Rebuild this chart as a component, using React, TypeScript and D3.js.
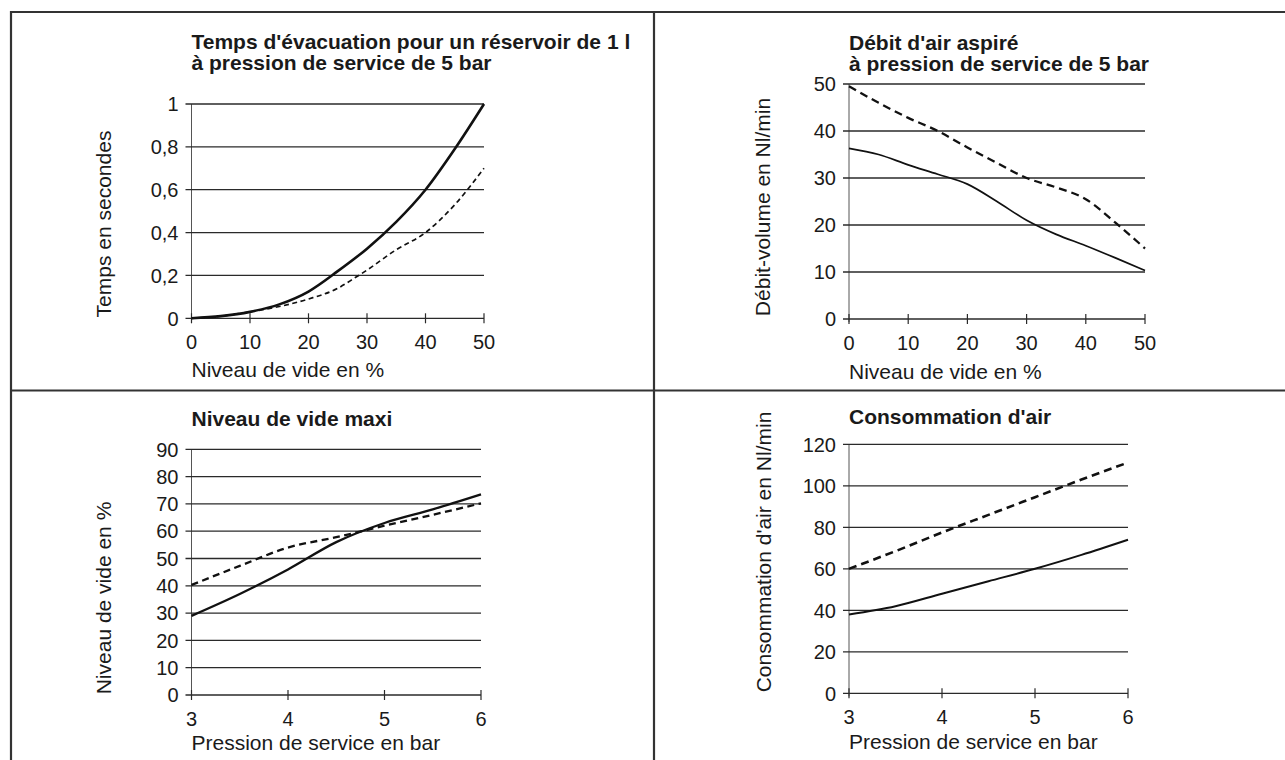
import React from "react";
import * as d3 from "d3";

// ---------- DATA ----------
const vacuumLevels = [0, 5, 10, 15, 20, 25, 30, 35, 40, 45, 50];
const evacTimeSolid = [0, 0.01, 0.03, 0.065, 0.125, 0.22, 0.325, 0.45, 0.6, 0.79, 1.0];
const evacDashX = [0, 5, 10, 15, 20, 25, 28, 30, 35, 40, 45, 50];
const evacTimeDashed = [0, 0.01, 0.03, 0.055, 0.09, 0.14, 0.19, 0.225, 0.32, 0.4, 0.53, 0.7];
const evacYTicks = [0, 0.2, 0.4, 0.6, 0.8, 1];
const evacYTickLabels = ["0", "0,2", "0,4", "0,6", "0,8", "1"];

const flowDashed = [49.5, 46, 42.8, 40, 36.5, 33.2, 30, 28, 25.5, 20.5, 15];
const flowSolid = [36.3, 35, 32.8, 30.8, 28.7, 25, 21, 18, 15.6, 13, 10.3];
const flowYTicks = [0, 10, 20, 30, 40, 50];

const pressures = [3, 3.5, 4, 4.5, 5, 5.5, 6];
const maxVacSolid = [29, 37, 46, 56, 63, 68, 73.5];
const maxVacDashed = [40.3, 47.3, 54, 57.8, 62, 66, 70.2];
const maxVacYTicks = [0, 10, 20, 30, 40, 50, 60, 70, 80, 90];

const airConsDashed = [60, 68.5, 77.5, 86, 94.5, 103, 111.2];
const airConsSolid = [38, 42, 48, 54, 60, 66.7, 74];
const airConsYTicks = [0, 20, 40, 60, 80, 100, 120];

const vacuumTicks = [0, 10, 20, 30, 40, 50];
const pressureTicks = [3, 4, 5, 6];

// ---------- STYLE ----------
const FONT = "'Liberation Sans', Arial, Helvetica, sans-serif";
const INK = "#1a1a1a";
const GRID = "#2a2a2a";

type Series = { xs: number[]; ys: number[]; dashed: boolean; width: number; dash?: string };

type PanelProps = {
  titleLines: string[];
  titleX: number;
  titleBaseline: number;
  xRange: [number, number];
  yRange: [number, number];
  xDomain: [number, number];
  yDomain: [number, number];
  xTicks: number[];
  yTicks: number[];
  yTickLabels?: string[];
  xLabel: string;
  xLabelBaseline: number;
  xTickBaseline: number;
  yLabel: string;
  yLabelCenter: [number, number];
  series: Series[];
};

function Panel(p: PanelProps) {
  const x = d3.scaleLinear().domain(p.xDomain).range(p.xRange);
  const y = d3.scaleLinear().domain(p.yDomain).range(p.yRange);
  const x0 = p.xRange[0];
  const x1 = p.xRange[1];
  const yBottom = y(p.yDomain[0]);
  return (
    <g>
      {p.titleLines.map((t, i) => (
        <text key={i} x={p.titleX} y={p.titleBaseline + i * 20.5} fontFamily={FONT} fontWeight="bold" fontSize={21} fill={INK}>
          {t}
        </text>
      ))}
      <line x1={x0} x2={x0} y1={y(p.yDomain[1])} y2={yBottom + 3} stroke="#555" strokeWidth={1} />
      {p.yTicks.map((v) => (
        <line key={"g" + v} x1={x0 - 6} x2={x1} y1={y(v)} y2={y(v)} stroke={GRID} strokeWidth={1.3} />
      ))}
      {p.yTicks.map((v, i) => (
        <text key={"yl" + v} x={x0 - 13} y={y(v)} dy="0.36em" textAnchor="end" fontFamily={FONT} fontSize={20} fill={INK}>
          {p.yTickLabels ? p.yTickLabels[i] : String(v)}
        </text>
      ))}
      {p.xTicks.map((v) => (
        <line key={"xt" + v} x1={x(v)} x2={x(v)} y1={yBottom - 5} y2={yBottom + 5} stroke={GRID} strokeWidth={1.2} />
      ))}
      {p.xTicks.map((v) => (
        <text key={"xl" + v} x={x(v)} y={p.xTickBaseline} textAnchor="middle" fontFamily={FONT} fontSize={20} fill={INK}>
          {String(v)}
        </text>
      ))}
      <text x={x0} y={p.xLabelBaseline} fontFamily={FONT} fontSize={21} fill={INK}>
        {p.xLabel}
      </text>
      <text
        transform={`translate(${p.yLabelCenter[0]},${p.yLabelCenter[1]}) rotate(-90)`}
        textAnchor="middle"
        dy="0.36em"
        fontFamily={FONT}
        fontSize={21}
        fill={INK}
      >
        {p.yLabel}
      </text>
      {p.series.map((s, i) => {
        const pts = s.xs.map((xv, j) => [xv, s.ys[j]] as [number, number]);
        const path = d3
          .line<[number, number]>()
          .x((d) => x(d[0]))
          .y((d) => y(d[1]))
          .curve(d3.curveMonotoneX)(pts);
        return (
          <path
            key={"s" + i}
            d={path || ""}
            fill="none"
            stroke="#111"
            strokeWidth={s.width}
            strokeDasharray={s.dashed ? s.dash || "8,5" : undefined}
            strokeLinejoin="round"
          />
        );
      })}
    </g>
  );
}

export default function App() {
  return (
    <div style={{ position: "absolute", left: 0, top: 0 }}>
      <svg width={1285} height={760} style={{ display: "block", background: "#fff" }}>
        <rect x={0} y={0} width={1285} height={760} fill="#fff" />
        <line x1={11} x2={11} y1={11} y2={760} stroke="#333" strokeWidth={2.2} />
        <line x1={10} x2={1285} y1={12} y2={12} stroke="#333" strokeWidth={2.2} />
        <line x1={654} x2={654} y1={11} y2={760} stroke="#333" strokeWidth={2.2} />
        <line x1={10} x2={1285} y1={390.5} y2={390.5} stroke="#333" strokeWidth={2.2} />

        <Panel
          titleLines={["Temps d'évacuation pour un réservoir de 1 l", "à pression de service de 5 bar"]}
          titleX={191.5}
          titleBaseline={49}
          xRange={[191.5, 484]}
          yRange={[318.3, 104]}
          xDomain={[0, 50]}
          yDomain={[0, 1]}
          xTicks={vacuumTicks}
          yTicks={evacYTicks}
          yTickLabels={evacYTickLabels}
          xLabel="Niveau de vide en %"
          xLabelBaseline={377}
          xTickBaseline={348.5}
          yLabel="Temps en secondes"
          yLabelCenter={[103, 224]}
          series={[
            { xs: vacuumLevels, ys: evacTimeSolid, dashed: false, width: 2.6 },
            { xs: evacDashX, ys: evacTimeDashed, dashed: true, width: 1.7, dash: "5,3.5" },
          ]}
        />
        <Panel
          titleLines={["Débit d'air aspiré", "à pression de service de 5 bar"]}
          titleX={849}
          titleBaseline={50}
          xRange={[849, 1145]}
          yRange={[319, 84]}
          xDomain={[0, 50]}
          yDomain={[0, 50]}
          xTicks={vacuumTicks}
          yTicks={flowYTicks}
          xLabel="Niveau de vide en %"
          xLabelBaseline={379}
          xTickBaseline={350}
          yLabel="Débit-volume en Nl/min"
          yLabelCenter={[762, 207]}
          series={[
            { xs: vacuumLevels, ys: flowDashed, dashed: true, width: 2.3, dash: "8,5" },
            { xs: vacuumLevels, ys: flowSolid, dashed: false, width: 1.7 },
          ]}
        />
        <Panel
          titleLines={["Niveau de vide maxi"]}
          titleX={191.5}
          titleBaseline={426}
          xRange={[191.5, 481]}
          yRange={[695, 449.3]}
          xDomain={[3, 6]}
          yDomain={[0, 90]}
          xTicks={pressureTicks}
          yTicks={maxVacYTicks}
          xLabel="Pression de service en bar"
          xLabelBaseline={750}
          xTickBaseline={726}
          yLabel="Niveau de vide en %"
          yLabelCenter={[103, 598]}
          series={[
            { xs: pressures, ys: maxVacSolid, dashed: false, width: 2.3 },
            { xs: pressures, ys: maxVacDashed, dashed: true, width: 2.3, dash: "7,4.5" },
          ]}
        />
        <Panel
          titleLines={["Consommation d'air"]}
          titleX={849}
          titleBaseline={424}
          xRange={[849, 1128]}
          yRange={[693.3, 444.3]}
          xDomain={[3, 6]}
          yDomain={[0, 120]}
          xTicks={pressureTicks}
          yTicks={airConsYTicks}
          xLabel="Pression de service en bar"
          xLabelBaseline={749}
          xTickBaseline={724}
          yLabel="Consommation d'air en Nl/min"
          yLabelCenter={[763, 552]}
          series={[
            { xs: pressures, ys: airConsDashed, dashed: true, width: 2.6, dash: "8,5" },
            { xs: pressures, ys: airConsSolid, dashed: false, width: 2 },
          ]}
        />
      </svg>
    </div>
  );
}
